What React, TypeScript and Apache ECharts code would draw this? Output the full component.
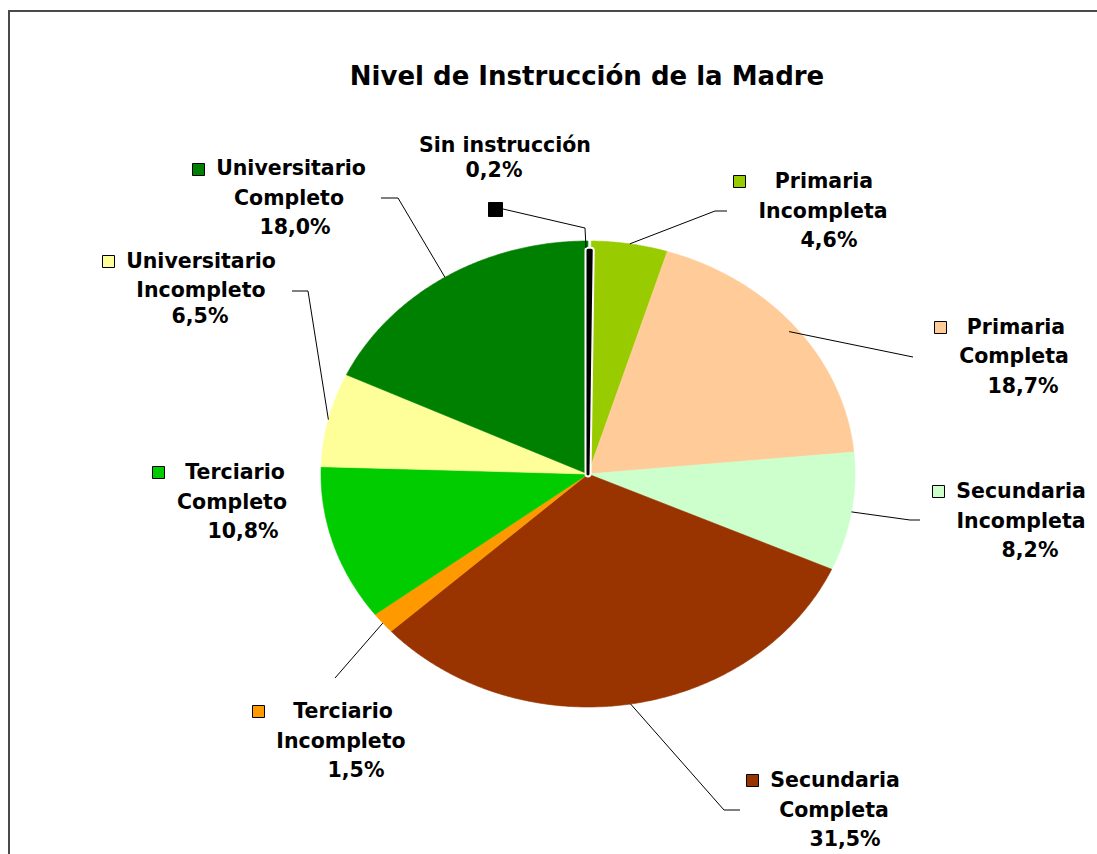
import React, { useEffect, useRef } from "react";
import * as echarts from "echarts";

const chartTitle = "Nivel de Instrucción de la Madre";
const categories = [
  "Sin instrucción",
  "Primaria\nIncompleta",
  "Primaria\nCompleta",
  "Secundaria\nIncompleta",
  "Secundaria\nCompleta",
  "Terciario\nIncompleto",
  "Terciario\nCompleto",
  "Universitario\nIncompleto",
  "Universitario\nCompleto",
];
const values = [0.2, 4.6, 18.7, 8.2, 31.5, 1.5, 10.8, 6.5, 18.0];
const colors = [
  "#000000",
  "#99CC00",
  "#FFCC99",
  "#CCFFCC",
  "#993300",
  "#FF9900",
  "#00CC00",
  "#FFFF99",
  "#008000",
];

// label layout (positions of label texts, keys and leader elbows)
const labelLayout = [
  { key: [495, 209], keySize: 14, lines: [[505, 145], [494, 170]], leader: [[503, 209], [585, 228], [586, 248]], leaderR: 1 },
  { key: [739, 181], keySize: 12, lines: [[824, 181], [823, 211], [829, 240]], leader: [[727, 211], [715, 211]], leaderR: 1 },
  { key: [940, 327], keySize: 12, lines: [[1016, 327], [1014, 356], [1023, 386]], leader: [[913, 357]], leaderR: 0.97 },
  { key: [938, 491], keySize: 12, lines: [[1021, 491], [1021, 521], [1030, 550]], leader: [[920, 520], [910, 520]], leaderR: 1 },
  { key: [752, 780], keySize: 12, lines: [[835, 780], [834, 810], [845, 839]], leader: [[740, 810], [724, 810]], leaderR: 1 },
  { key: [258, 711], keySize: 12, lines: [[343, 711], [341, 741], [356, 770]], leader: [[335, 678]], leaderR: 1 },
  { key: [158, 472], keySize: 12, lines: [[235, 472], [232, 502], [243, 531]], leader: [], leaderR: 1 },
  { key: [108, 261], keySize: 12, lines: [[201, 261], [201, 290], [200, 316]], leader: [[292, 291], [308, 291]], leaderR: 1 },
  { key: [198, 169], keySize: 12, lines: [[291, 168], [289, 198], [295, 227]], leader: [[381, 198], [398, 198]], leaderR: 1 },
];

const CX = 588;
const CY = 474;
const RX = 267;
const RY = 233;
const FONT = '"DejaVu Sans", Verdana, sans-serif';

function fmtPct(v: number) {
  return v.toFixed(1).replace(".", ",") + "%";
}

export default function App() {
  const ref = useRef<HTMLDivElement>(null);

  useEffect(() => {
    if (!ref.current) return;
    const chart = echarts.init(ref.current, null, { renderer: "svg" });
    const total = values.reduce((a, b) => a + b, 0);
    const cum: number[] = [];
    let acc = 0;
    values.forEach((v) => {
      cum.push(acc);
      acc += v;
    });

    const pt = (frac: number, r: number) => {
      const a = frac * Math.PI * 2; // clockwise from 12 o'clock
      return [CX + RX * r * Math.sin(a), CY - RY * r * Math.cos(a)];
    };

    const renderItem = (params: any, api: any) => {
      const i = params.dataIndex;
      const v = api.value(0);
      const f0 = cum[i] / total;
      const f1 = (cum[i] + v) / total;
      const isTiny = i === 0;
      const rr = isTiny ? 0.96 : 1;
      const steps = Math.max(2, Math.ceil(((f1 - f0) * 360) / 0.5));
      const points: number[][] = [[CX, CY]];
      for (let s = 0; s <= steps; s++) {
        points.push(pt(f0 + ((f1 - f0) * s) / steps, rr));
      }
      const children: any[] = [];
      if (isTiny) {
        // white outline around the thin slice, then the slice itself
        children.push({
          type: "polygon",
          z2: 9,
          shape: { points },
          style: { fill: "#ffffff", stroke: "#ffffff", lineWidth: 7, lineJoin: "round" },
        });
        children.push({
          type: "polygon",
          z2: 10,
          shape: { points },
          style: { fill: "#000000", stroke: "#000000", lineWidth: 3, lineJoin: "round" },
        });
      } else {
        children.push({
          type: "polygon",
          z2: 1,
          shape: { points },
          style: { fill: colors[i], stroke: colors[i], lineWidth: 0.6 },
        });
      }
      const lay = labelLayout[i];
      const lines = categories[i].split("\n").concat([fmtPct(v)]);
      lines.forEach((t, k) => {
        const p = lay.lines[k];
        children.push({
          type: "text",
          z2: 20,
          style: {
            text: t,
            x: p[0],
            y: p[1],
            align: "center",
            verticalAlign: "middle",
            fontFamily: FONT,
            fontWeight: "bold",
            fontSize: 20.5,
            fill: "#000000",
          },
        });
      });
      const ks = lay.keySize;
      children.push({
        type: "rect",
        z2: 20,
        shape: {
          x: Math.round(lay.key[0] - ks / 2) + 0.5,
          y: Math.round(lay.key[1] - ks / 2) + 0.5,
          width: ks,
          height: ks,
        },
        style: { fill: colors[i], stroke: "#000000", lineWidth: 1 },
      });
      if (lay.leader.length > 0) {
        const pts = [...lay.leader];
        if (!isTiny) {
          const mid = (f0 + f1) / 2;
          pts.push(pt(mid, lay.leaderR));
        }
        children.push({
          type: "polyline",
          z2: 15,
          shape: { points: pts },
          style: { stroke: "#000000", lineWidth: 1, fill: null },
        });
      }
      return { type: "group", children };
    };

    chart.setOption({
      animation: false,
      backgroundColor: "#ffffff",
      title: {
        text: chartTitle,
        left: 587,
        top: 63,
        textAlign: "center",
        padding: 0,
        textStyle: {
          fontFamily: FONT,
          fontWeight: "bold",
          fontSize: 26,
          color: "#000000",
        },
      },
      graphic: [
        {
          type: "rect",
          silent: true,
          shape: { x: 9, y: 11, width: 1200, height: 1000 },
          style: { fill: "none", stroke: "#4a4a4a", lineWidth: 2 },
        },
      ],
      series: [
        {
          type: "custom",
          coordinateSystem: "none",
          renderItem,
          data: values.map((v, i) => ({ name: categories[i].replace("\n", " "), value: [v] })),
        },
      ],
    });
    return () => chart.dispose();
  }, []);

  return (
    <div
      ref={ref}
      style={{ position: "absolute", left: 0, top: 0, width: 1097, height: 854 }}
    />
  );
}
